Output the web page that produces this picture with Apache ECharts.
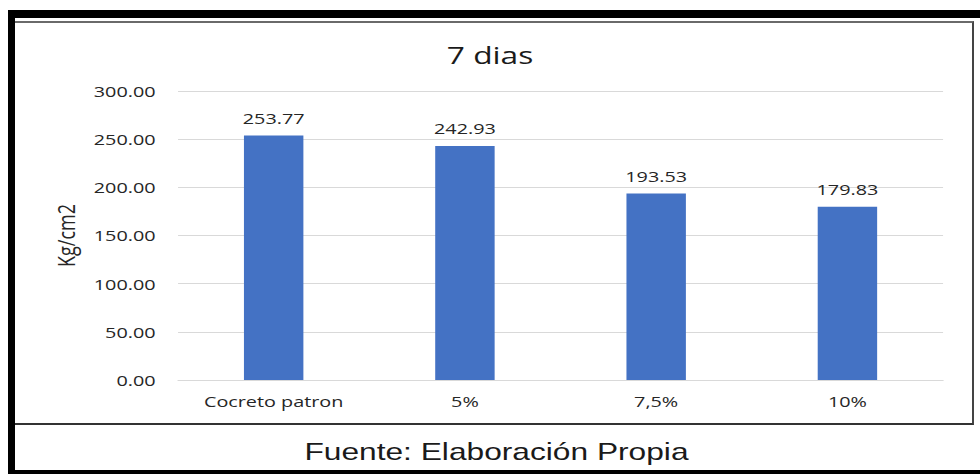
<!DOCTYPE html>
<html>
<head>
<meta charset="utf-8">
<script src="https://cdn.jsdelivr.net/npm/echarts@6/dist/echarts.min.js"></script>
<style>
  html, body { margin: 0; padding: 0; background: #fff; }
  #page { position: relative; width: 980px; height: 474px; overflow: hidden; background: #fff; }
  /* heavy black outer box (its right edge runs past the page) */
  #outer { position: absolute; left: 8px; top: 10px; width: 1000px; height: 464px;
           box-sizing: border-box; border-left: 7px solid #000; border-top: 8px solid #000;
           border-bottom: 4px solid #000; }
  /* thin frame around the chart itself */
  #frame { position: absolute; left: 15px; top: 21px; width: 959px; height: 404px;
           box-sizing: border-box; border-top: 2px solid #6a6a6a; border-right: 2px solid #444;
           border-bottom: 2px solid #333; }
  /* chart is laid out narrower, then widened to the full page width */
  #chart { position: absolute; left: 0; top: 0; width: 742px; height: 474px;
           transform: scaleX(1.3208); transform-origin: 0 0; }
</style>
</head>
<body>
<div id="page">
  <div id="outer"></div>
  <div id="frame"></div>
  <div id="chart"></div>
</div>
<script>
// Compressive strength at 7 days
const categories = ['Cocreto patron', '5%', '7,5%', '10%'];
const strength = [253.77, 242.93, 193.53, 179.83];
const yMin = 0;
const yMax = 300;
const yStep = 50;

const chart = echarts.init(document.getElementById('chart'), null, { renderer: 'svg' });

const baseFont = '"Open Sans", "Noto Sans", sans-serif';

chart.setOption({
  animation: false,
  backgroundColor: 'transparent',
  title: {
    text: '7 dias',
    left: 'center',
    top: 38,
    textStyle: { fontFamily: baseFont, fontSize: 24, fontWeight: 'normal', color: '#1a1a1a' }
  },
  grid: { left: 134.8, right: 28, top: 91, bottom: 94, containLabel: false },
  xAxis: {
    type: 'category',
    data: categories,
    axisLine: { show: true, lineStyle: { color: '#d9d9d9', width: 1 } },
    axisTick: { show: false },
    axisLabel: { margin: 14, fontFamily: baseFont, fontSize: 15, color: '#262626' }
  },
  yAxis: {
    type: 'value',
    min: yMin,
    max: yMax,
    interval: yStep,
    name: 'Kg/cm2',
    nameLocation: 'middle',
    nameGap: 76,
    nameRotate: 90,
    nameTextStyle: { fontFamily: baseFont, fontSize: 18, color: '#262626' },
    axisLine: { show: false },
    axisTick: { show: false },
    axisLabel: {
      margin: 17,
      fontFamily: baseFont, fontSize: 15, color: '#262626',
      formatter: v => v.toFixed(2)
    },
    splitLine: { lineStyle: { color: '#d9d9d9', width: 1 } }
  },
  series: [{
    type: 'bar',
    data: strength,
    barWidth: 45,
    itemStyle: { color: '#4472c4' },
    label: {
      show: true,
      position: 'top',
      distance: 10,
      fontFamily: baseFont, fontSize: 15, color: '#262626',
      formatter: p => p.value.toFixed(2)
    }
  }],
  graphic: [{
    type: 'text',
    x: 375.9,
    y: 452,
    style: {
      text: 'Fuente: Elaboración Propia',
      fontFamily: '"Liberation Sans", Arial, sans-serif',
      fontSize: 24,
      fill: '#1a1a1a',
      align: 'center',
      verticalAlign: 'middle'
    }
  }]
});
</script>
</body>
</html>
